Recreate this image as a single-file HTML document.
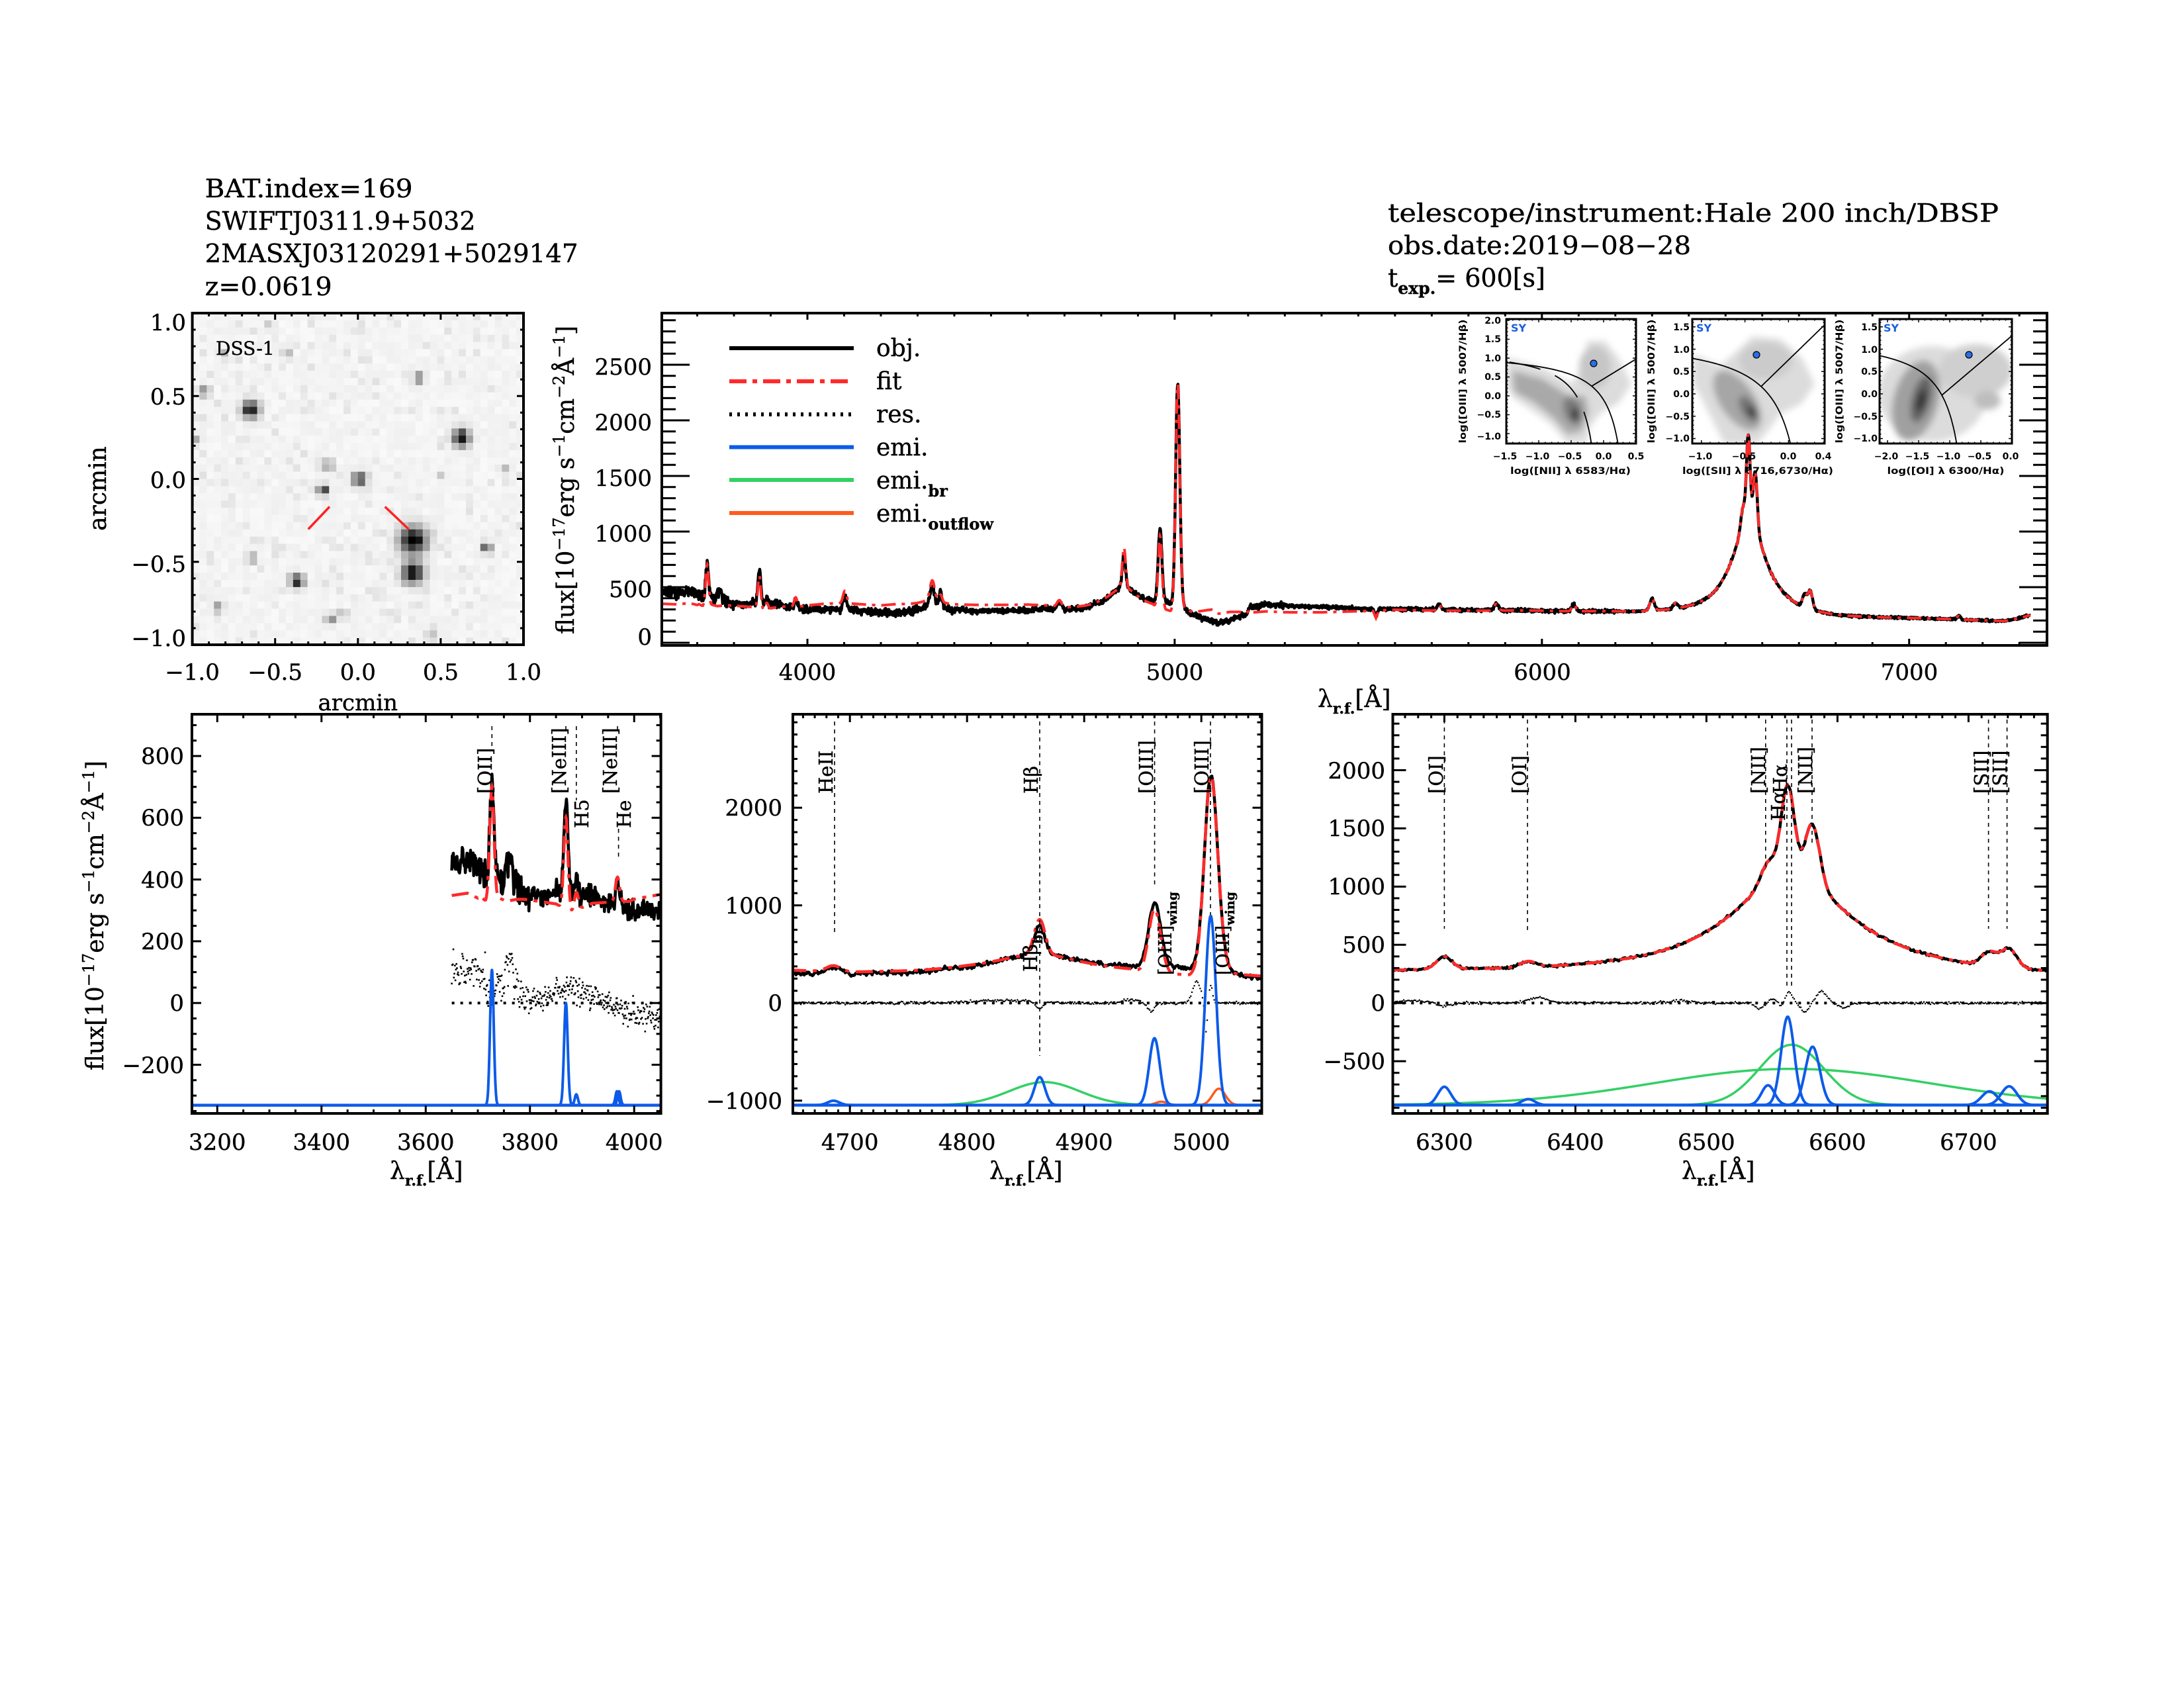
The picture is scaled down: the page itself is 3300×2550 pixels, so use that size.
<!DOCTYPE html>
<html><head><meta charset="utf-8"><title>SWIFTJ0311.9+5032 spectrum</title>
<style>
html,body{margin:0;padding:0;background:#fff;}
svg{display:block;}
text{font-family:"DejaVu Serif","Liberation Serif",serif;fill:#000;stroke:#000;stroke-width:0.4px;}
.ins text{font-family:"DejaVu Sans","Liberation Sans",sans-serif;font-weight:bold;stroke:none;}
</style></head><body>
<svg id="S" xmlns="http://www.w3.org/2000/svg" width="3300" height="2550" viewBox="0 0 3300 2550">
<rect width="3300" height="2550" fill="#fff"/>
<defs>
<clipPath id="cm"><rect x="1000" y="473" width="2093" height="502"/></clipPath>
<clipPath id="c1"><rect x="290" y="1079" width="708.6" height="603"/></clipPath>
<clipPath id="c2"><rect x="1198" y="1079" width="708.5" height="603"/></clipPath>
<clipPath id="c3"><rect x="2104.5" y="1079" width="989.2" height="603"/></clipPath>
<clipPath id="ci1"><rect x="2276" y="482" width="196" height="188"/></clipPath>
<clipPath id="ci2"><rect x="2557" y="482" width="200" height="188"/></clipPath>
<clipPath id="ci3"><rect x="2840" y="482" width="200" height="188"/></clipPath>
<filter id="bl" x="-30%" y="-30%" width="160%" height="160%"><feGaussianBlur stdDeviation="5"/></filter>
</defs>

<!-- Header text -->
<text x="309.6" y="298" font-size="38" textLength="314" lengthAdjust="spacingAndGlyphs">BAT.index=169</text>
<text x="309.6" y="347" font-size="38" textLength="409" lengthAdjust="spacingAndGlyphs">SWIFTJ0311.9+5032</text>
<text x="309.6" y="396" font-size="38" textLength="564" lengthAdjust="spacingAndGlyphs">2MASXJ03120291+5029147</text>
<text x="309.6" y="446" font-size="38" textLength="192" lengthAdjust="spacingAndGlyphs">z=0.0619</text>
<text x="2097" y="335" font-size="38" textLength="923" lengthAdjust="spacingAndGlyphs">telescope/instrument:Hale 200 inch/DBSP</text>
<text x="2097" y="384" font-size="38" textLength="458" lengthAdjust="spacingAndGlyphs">obs.date:2019−08−28</text>
<text x="2097" y="433" font-size="38">t<tspan font-size="25" font-weight="bold" dy="11">exp.</tspan><tspan dy="-11">= 600[s]</tspan></text>

<!-- DSS image -->
<g id="gdss"></g>
<line x1="465.7" y1="799.5" x2="498" y2="765.5" stroke="#f22" stroke-width="3.5"/>
<line x1="581.7" y1="765.5" x2="617.5" y2="799.5" stroke="#f22" stroke-width="3.5"/>
<text x="326" y="536" font-size="28">DSS-1</text>
<rect x="290.6" y="473" width="500.4" height="501" fill="none" stroke="#000" stroke-width="4"/>
<g font-size="34" text-anchor="end">
<text x="281" y="499">1.0</text>
<text x="281" y="611">0.5</text>
<text x="281" y="737">0.0</text>
<text x="281" y="864">−0.5</text>
<text x="281" y="976">−1.0</text>
</g>
<g font-size="34" text-anchor="middle">
<text x="290.6" y="1027">−1.0</text>
<text x="415.7" y="1027">−0.5</text>
<text x="540.8" y="1027">0.0</text>
<text x="666" y="1027">0.5</text>
<text x="791" y="1027">1.0</text>
<text x="540.8" y="1073">arcmin</text>
</g>
<text transform="translate(160,738) rotate(-90)" font-size="36" text-anchor="middle">arcmin</text>

<!-- Insets (BPT) -->
<g class="ins">
<g clip-path="url(#ci1)"><g filter="url(#bl)">
<polygon fill="#dcdcdc" points="2278,540 2330,555 2375,580 2395,545 2398,515 2425,515 2445,540 2465,580 2445,610 2420,622 2402,645 2398,668 2368,670 2345,642 2318,622 2288,602 2276,585"/>
<ellipse cx="2410" cy="555" rx="24" ry="32" fill="#c6c6c6"/>
<polygon fill="#a9a9a9" points="2285,560 2330,572 2372,598 2396,598 2400,622 2390,652 2368,656 2348,632 2318,608 2288,592"/>
<ellipse cx="2376" cy="620" rx="13" ry="22" transform="rotate(-20 2376 620)" fill="#7a7a7a"/>
<ellipse cx="2380" cy="626" rx="6" ry="11" fill="#3e3e3e"/>
</g></g>
<g clip-path="url(#ci2)"><g filter="url(#bl)">
<polygon fill="#dcdcdc" points="2558,535 2600,552 2625,530 2648,508 2690,512 2722,540 2742,580 2722,610 2690,625 2672,650 2655,670 2605,670 2585,630 2570,600 2558,580"/>
<ellipse cx="2668" cy="545" rx="40" ry="28" fill="#cbcbcb"/>
<ellipse cx="2625" cy="605" rx="52" ry="26" transform="rotate(55 2625 605)" fill="#a6a6a6"/>
<ellipse cx="2642" cy="618" rx="22" ry="11" transform="rotate(60 2642 618)" fill="#737373"/>
<ellipse cx="2647" cy="622" rx="9" ry="5" transform="rotate(60 2647 622)" fill="#333"/>
</g></g>
<g clip-path="url(#ci3)"><g filter="url(#bl)">
<ellipse cx="2920" cy="595" rx="82" ry="72" fill="#dcdcdc"/>
<ellipse cx="2985" cy="560" rx="55" ry="40" fill="#cfcfcf"/>
<ellipse cx="3003" cy="605" rx="20" ry="14" fill="#bdbdbd"/>
<ellipse cx="2895" cy="605" rx="34" ry="62" transform="rotate(15 2895 605)" fill="#a0a0a0"/>
<ellipse cx="2903" cy="603" rx="14" ry="36" transform="rotate(15 2903 603)" fill="#636363"/>
<ellipse cx="2903" cy="605" rx="6" ry="17" transform="rotate(15 2903 605)" fill="#2e2e2e"/>
</g></g>
<g id="gins"></g>
<rect x="2276" y="482" width="196" height="188" fill="none" stroke="#000" stroke-width="3"/>
<rect x="2557" y="482" width="200" height="188" fill="none" stroke="#000" stroke-width="3"/>
<rect x="2840" y="482" width="200" height="188" fill="none" stroke="#000" stroke-width="3"/>
<g fill="#1a5fe0" font-size="16"><text x="2283" y="501" style="fill:#1a5fe0">SY</text><text x="2563" y="501" style="fill:#1a5fe0">SY</text><text x="2846" y="501" style="fill:#1a5fe0">SY</text></g>
<g font-size="14" text-anchor="end">
<text x="2268" y="489">2.0</text><text x="2268" y="517">1.5</text><text x="2268" y="546">1.0</text><text x="2268" y="574">0.5</text><text x="2268" y="603">0.0</text><text x="2268" y="631">−0.5</text><text x="2268" y="664">−1.0</text>
<text x="2553" y="499">1.5</text><text x="2553" y="533">1.0</text><text x="2553" y="566">0.5</text><text x="2553" y="600">0.0</text><text x="2553" y="634">−0.5</text><text x="2553" y="667">−1.0</text>
<text x="2837" y="499">1.5</text><text x="2837" y="533">1.0</text><text x="2837" y="566">0.5</text><text x="2837" y="600">0.0</text><text x="2837" y="634">−0.5</text><text x="2837" y="667">−1.0</text>
</g>
<g font-size="14" text-anchor="middle">
<text x="2274" y="694">−1.5</text><text x="2323" y="694">−1.0</text><text x="2372" y="694">−0.5</text><text x="2423" y="694">0.0</text><text x="2472" y="694">0.5</text>
<text x="2569" y="694">−1.0</text><text x="2635" y="694">−0.5</text><text x="2702" y="694">0.0</text><text x="2755" y="694">0.4</text>
<text x="2850" y="694">−2.0</text><text x="2897" y="694">−1.5</text><text x="2944" y="694">−1.0</text><text x="2991" y="694">−0.5</text><text x="3038" y="694">0.0</text>
<text x="2373" y="716" textLength="182" lengthAdjust="spacingAndGlyphs">log([NII] λ 6583/Hα)</text>
<text x="2656" y="716" textLength="228" lengthAdjust="spacingAndGlyphs">log([SII] λ 6716,6730/Hα)</text>
<text x="2940" y="716" textLength="177" lengthAdjust="spacingAndGlyphs">log([OI] λ 6300/Hα)</text>
<text transform="translate(2215,576) rotate(-90)" textLength="187" lengthAdjust="spacingAndGlyphs">log([OIII] λ 5007/Hβ)</text>
<text transform="translate(2500,576) rotate(-90)" textLength="187" lengthAdjust="spacingAndGlyphs">log([OIII] λ 5007/Hβ)</text>
<text transform="translate(2784,576) rotate(-90)" textLength="187" lengthAdjust="spacingAndGlyphs">log([OIII] λ 5007/Hβ)</text>
</g>
</g>

<!-- Main spectrum -->
<g id="gmain" clip-path="url(#cm)"></g>
<rect x="1000" y="473" width="2093" height="502" fill="none" stroke="#000" stroke-width="4"/>
<g font-size="34" text-anchor="end">
<text x="985" y="566">2500</text><text x="985" y="650">2000</text><text x="985" y="734">1500</text><text x="985" y="818">1000</text><text x="985" y="902">500</text><text x="985" y="974">0</text>
</g>
<g font-size="34" text-anchor="middle">
<text x="1220" y="1027">4000</text><text x="1775" y="1027">5000</text><text x="2330.5" y="1027">6000</text><text x="2885" y="1027">7000</text>
</g>
<text x="1991" y="1068" font-size="36">λ<tspan font-size="22" font-weight="bold" dy="10">r.f.</tspan><tspan dy="-10">[Å]</tspan></text>
<text transform="translate(867,725) rotate(-90)" font-size="36" text-anchor="middle" textLength="466" lengthAdjust="spacingAndGlyphs">flux[10<tspan font-size="24" dy="-14">−17</tspan><tspan dy="14">erg s</tspan><tspan font-size="24" dy="-14">−1</tspan><tspan dy="14">cm</tspan><tspan font-size="24" dy="-14">−2</tspan><tspan dy="14">Å</tspan><tspan font-size="24" dy="-14">−1</tspan><tspan dy="14">]</tspan></text>
<!-- legend -->
<line x1="1102" y1="526" x2="1290" y2="526" stroke="#000" stroke-width="6"/>
<line x1="1102" y1="576" x2="1290" y2="576" stroke="#ff2a2a" stroke-width="6" stroke-dasharray="26 9 7 9"/>
<line x1="1102" y1="626" x2="1290" y2="626" stroke="#000" stroke-width="6" stroke-dasharray="4 8"/>
<line x1="1102" y1="675.5" x2="1290" y2="675.5" stroke="#0d5be8" stroke-width="6"/>
<line x1="1102" y1="725" x2="1290" y2="725" stroke="#33d065" stroke-width="6"/>
<line x1="1102" y1="775" x2="1290" y2="775" stroke="#ff5a1e" stroke-width="6"/>
<g font-size="36">
<text x="1324" y="538">obj.</text>
<text x="1324" y="588">fit</text>
<text x="1324" y="638">res.</text>
<text x="1324" y="688">emi.</text>
<text x="1324" y="738">emi.<tspan font-size="24" font-weight="bold" dy="12">br</tspan></text>
<text x="1324" y="788">emi.<tspan font-size="24" font-weight="bold" dy="12">outflow</tspan></text>
</g>

<!-- Bottom panels -->
<g id="gp1" clip-path="url(#c1)"></g>
<g id="gp2" clip-path="url(#c2)"></g>
<g id="gp3" clip-path="url(#c3)"></g>
<rect x="290" y="1079" width="708.6" height="603" fill="none" stroke="#000" stroke-width="4"/>
<rect x="1198" y="1079" width="708.5" height="603" fill="none" stroke="#000" stroke-width="4"/>
<rect x="2104.5" y="1079" width="989.2" height="603" fill="none" stroke="#000" stroke-width="4"/>
<g font-size="34" text-anchor="end">
<text x="278" y="1154">800</text><text x="278" y="1247">600</text><text x="278" y="1341">400</text><text x="278" y="1434">200</text><text x="278" y="1527">0</text><text x="278" y="1621">−200</text>
<text x="1182" y="1232">2000</text><text x="1182" y="1380">1000</text><text x="1182" y="1527">0</text><text x="1182" y="1675">−1000</text>
<text x="2093" y="1176">2000</text><text x="2093" y="1263">1500</text><text x="2093" y="1351">1000</text><text x="2093" y="1439">500</text><text x="2093" y="1527">0</text><text x="2093" y="1615">−500</text>
</g>
<g font-size="34" text-anchor="middle">
<text x="328.3" y="1737">3200</text><text x="485.8" y="1737">3400</text><text x="643.3" y="1737">3600</text><text x="800.8" y="1737">3800</text><text x="958.2" y="1737">4000</text>
<text x="1284.2" y="1737">4700</text><text x="1461.2" y="1737">4800</text><text x="1638.2" y="1737">4900</text><text x="1815.2" y="1737">5000</text>
<text x="2182.4" y="1737">6300</text><text x="2380.4" y="1737">6400</text><text x="2578.4" y="1737">6500</text><text x="2776.4" y="1737">6600</text><text x="2974.4" y="1737">6700</text>
</g>
<text x="589" y="1781" font-size="36">λ<tspan font-size="22" font-weight="bold" dy="10">r.f.</tspan><tspan dy="-10">[Å]</tspan></text>
<text x="1495" y="1781" font-size="36">λ<tspan font-size="22" font-weight="bold" dy="10">r.f.</tspan><tspan dy="-10">[Å]</tspan></text>
<text x="2541" y="1781" font-size="36">λ<tspan font-size="22" font-weight="bold" dy="10">r.f.</tspan><tspan dy="-10">[Å]</tspan></text>
<text transform="translate(156,1383) rotate(-90)" font-size="36" text-anchor="middle" textLength="468" lengthAdjust="spacingAndGlyphs">flux[10<tspan font-size="24" dy="-14">−17</tspan><tspan dy="14">erg s</tspan><tspan font-size="24" dy="-14">−1</tspan><tspan dy="14">cm</tspan><tspan font-size="24" dy="-14">−2</tspan><tspan dy="14">Å</tspan><tspan font-size="24" dy="-14">−1</tspan><tspan dy="14">]</tspan></text>

<!-- line marker labels -->
<g font-size="29">
<text transform="translate(743,1199) rotate(-90)">[OII]</text>
<text transform="translate(855,1199) rotate(-90)">[NeIII]</text>
<text transform="translate(889,1251) rotate(-90)">H5</text>
<text transform="translate(932,1199) rotate(-90)">[NeIII]</text>
<text transform="translate(953,1251) rotate(-90)">He</text>

<text transform="translate(1258,1199) rotate(-90)">HeII</text>
<text transform="translate(1568,1199) rotate(-90)">Hβ</text>
<text transform="translate(1742,1199) rotate(-90)">[OIII]</text>
<text transform="translate(1826,1199) rotate(-90)">[OIII]</text>
<text transform="translate(1567,1468) rotate(-90)">Hβ<tspan font-size="20" font-weight="bold" dy="8">br</tspan></text>
<text transform="translate(1770,1473) rotate(-90)" font-size="27">[OIII]<tspan font-size="19" font-weight="bold" dy="8">wing</tspan></text>
<text transform="translate(1857,1473) rotate(-90)" font-size="27">[OIII]<tspan font-size="19" font-weight="bold" dy="8">wing</tspan></text>

<text transform="translate(2180,1199) rotate(-90)">[OI]</text>
<text transform="translate(2306,1199) rotate(-90)">[OI]</text>
<text transform="translate(2667,1199) rotate(-90)">[NII]</text>
<text transform="translate(2700,1199) rotate(-90)">Hα</text>
<text transform="translate(2697,1240) rotate(-90)">Hα</text>
<text transform="translate(2738,1199) rotate(-90)">[NII]</text>
<text transform="translate(3004,1199) rotate(-90)">[SII]</text>
<text transform="translate(3032,1199) rotate(-90)">[SII]</text>
</g>

<g id="gt"></g>
</svg>
<script>
(function(){
const NS='http://www.w3.org/2000/svg';
function E(p,t,a){const e=document.createElementNS(NS,t);for(const k in a)e.setAttribute(k,a[k]);p.appendChild(e);return e;}
function G(l,c,s){const z=(l-c)/s;return Math.exp(-0.5*z*z);}
function Lz(l,c,g){const z=(l-c)/g;return 1/(1+z*z);}
function interp(P,x){if(x<=P[0][0])return P[0][1];for(let i=1;i<P.length;i++){if(x<=P[i][0]){const a=P[i-1],b=P[i];return a[1]+(b[1]-a[1])*(x-a[0])/(b[0]-a[0]);}}return P[P.length-1][1];}
function hn(i){const x=Math.sin(i*127.1+311.7)*43758.5453;return x-Math.floor(x);}
function gn(i){return (hn(i)+hn(i+0.37)+hn(i+0.71)+hn(i+0.13)-2)*1.732;}

/* ---------- spectrum model ---------- */
const OC=[[3604,455],[3640,450],[3680,460],[3705,440],[3715,400],[3740,400],[3755,380],[3775,375],[3790,345],[3850,355],[3900,345],[3950,325],[3990,300],[4050,300],[4100,300],[4130,290],[4200,265],[4260,270],[4300,285],[4400,285],[4500,280],[4600,285],[4650,295],[4700,280],[4760,280],[4800,290],[4850,300],[4900,300],[4940,320],[4980,340],[5000,310],[5030,270],[5060,230],[5090,200],[5120,165],[5150,200],[5185,240],[5195,240],[5205,320],[5250,335],[5300,330],[5400,320],[5500,305],[5540,300],[5548,235],[5556,300],[5700,295],[5800,290],[5950,285],[6050,275],[6150,270],[6250,258],[6350,250],[6450,245],[6550,260],[6650,240],[6700,225],[6800,210],[6900,210],[7000,210],[7100,205],[7200,195],[7260,190],[7300,215],[7330,245]];
const OL=[[3727,300,4],[3760,90,6],[3869,300,4],[3889,60,4],[3968,80,4],[4102,110,5],[4340,160,6],[4363,150,4],[4686,60,6],[4862,287,4.5],[4960,640,5],[4966,35,5],[5008,1939,5.5],[5015,169,5.5],[5720,50,5],[5876,60,6],[6087,60,5],[6300,110,6],[6364,50,6],[6547,170,5.5],[6562,759,5],[6581,501,5.5],[6716,118,6],[6731,161,6],[7135,30,5]];
const OLZ=[[4340,60,25],[4862,200,50],[6564,856,54.5]];
function objS(l){let f=interp(OC,l);for(const q of OL)f+=q[1]*G(l,q[0],q[2]);for(const q of OLZ)f+=q[1]*Lz(l,q[0],q[2]);return f;}
function sig(l){return l<3800?26:l<4400?17:l<5300?12:l<6200?8:5;}
function obj(l){return objS(l)+sig(l)*gn(Math.round(l*2));}
const DEL=[[3604,-105],[3700,-105],[3720,-60],[3740,-60],[3775,-40],[3790,-10],[3850,-35],[3880,-60],[3920,-15],[3950,0],[4000,35],[4050,50],[4150,60],[4250,75],[4300,55],[4400,50],[4500,55],[4600,50],[4650,30],[4700,20],[4800,15],[4850,0],[4900,-10],[4940,-30],[4950,-60],[4975,-80],[4990,-70],[5000,-20],[5020,0],[5050,20],[5100,100],[5150,70],[5195,20],[5210,-55],[5300,-60],[5400,-50],[5500,-25],[5600,-5],[5700,-10],[6000,0],[7330,0]];
const FA=[[3727,60,4],[3760,-90,6],[4363,-90,4],[4862,70,5]];
function fit(l){let f=objS(l)+interp(DEL,l);for(const q of FA)f+=q[1]*G(l,q[0],q[2]);return f;}
function P(fn,l0,l1,st,X,Y){let d='';for(let l=l0;l<=l1+1e-9;l+=st){d+=(d?'L':'M')+X(l).toFixed(1)+' '+Y(fn(l)).toFixed(1);}return d;}

const RED='#ff2a2a',BLUE='#0d5be8',GREEN='#33d065',ORANGE='#ff5a1e';

/* ---------- main ---------- */
const mX=l=>1220+(l-4000)*0.5549, mY=f=>971-f*0.168;
const gm=document.getElementById('gmain');
E(gm,'path',{d:P(obj,3604,7330,1,mX,mY),fill:'none',stroke:'#000','stroke-width':4.5,'stroke-linejoin':'round'});
E(gm,'path',{d:P(fit,3604,7330,1,mX,mY),fill:'none',stroke:RED,'stroke-width':4,'stroke-dasharray':'22 9 5 9'});

/* ---------- generic panel ---------- */
function panel(gid,X,Y,l0,l1,lf0,lf1,res,resDots,zero0,zero1,base,blue,green,orange,marks){
 const g=document.getElementById(gid);
 E(g,'path',{d:P(obj,l0,l1,1,X,Y),fill:'none',stroke:'#000','stroke-width':4.5,'stroke-linejoin':'round'});
 E(g,'path',{d:P(fit,l0,l1,0.5,X,Y),fill:'none',stroke:RED,'stroke-width':4.5,'stroke-dasharray':'26 10 6 10'});
 for(let l=l0;l<=l1;l+=1){const r=res(l);const s=resDots;E(g,'rect',{x:(X(l)-s/2).toFixed(1),y:(Y(r)-s/2).toFixed(1),width:s,height:s,fill:'#000'});}
 E(g,'line',{x1:X(zero0),y1:Y(0),x2:X(zero1),y2:Y(0),stroke:'#000','stroke-width':4,'stroke-dasharray':'4 9'});
 for(const m of marks)E(g,'line',{x1:m[0],y1:m[1],x2:m[0],y2:m[2],stroke:'#000','stroke-width':1.6,'stroke-dasharray':'6 6'});
 for(const q of green){E(g,'path',{d:P(l=>base+q[1]*G(l,q[0],q[2]),Math.max(lf0,q[0]-5*q[2]),Math.min(lf1,q[0]+5*q[2]),0.5,X,Y),fill:'none',stroke:GREEN,'stroke-width':3.5});}
 for(const q of orange){E(g,'path',{d:P(l=>base+q[1]*G(l,q[0],q[2]),q[0]-5*q[2],q[0]+5*q[2],0.25,X,Y),fill:'none',stroke:ORANGE,'stroke-width':3.5});}
 E(g,'line',{x1:X(lf0),y1:Y(base),x2:X(lf1),y2:Y(base),stroke:BLUE,'stroke-width':4.5});
 for(const q of blue){E(g,'path',{d:P(l=>base+q[1]*G(l,q[0],q[2]),q[0]-5*q[2],q[0]+5*q[2],0.25,X,Y),fill:'none',stroke:BLUE,'stroke-width':4,'stroke-linejoin':'round'});}
}
const p1X=l=>328.3+(l-3200)*0.7874, p1Y=f=>1515.2-f*0.4664;
panel('gp1',p1X,p1Y,3650,4050,3140,4060,
 l=>obj(l)-fit(l)+14*gn(l*3+7),2.6,3650,4050,-331,
 [[3727,438,3.5],[3869,331,3.5],[3889,35,3],[3967,45,3],[3971,45,3]],[],[],
 [[743.3,1097,1134],[855,1097,1104],[870.8,1097,1209],[933,1097,1104],[934.6,1252,1296]]);
const p2X=l=>1284.2+(l-4700)*1.77, p2Y=f=>1515.2-f*0.1475;
panel('gp2',p2X,p2Y,4648,5055,4645,5055,
 l=>7*gn(l*3+11)-60*G(l,4862,3)-90*G(l,4957,3)+220*G(l,4996,3.5)-300*G(l,5004,1.2)+180*G(l,5008,1.5)+25*G(l,4830,25)+30*G(l,4940,8),2.2,4645,5055,-1046,
 [[4686,45,5],[4862,287,4.5],[4960,685,4.5],[5008,1939,4.5]],[[4866,236,30]],[[4966,35,5],[5015,169,5.5]],
 [[1261,1090,1413],[1571,1090,1595],[1744.6,1090,1339],[1829,1090,1383]]);
const p3X=l=>2182.4+(l-6300)*1.98, p3Y=f=>1515.2-f*0.17585;
panel('gp3',p3X,p3Y,6258,6765,6255,6765,
 l=>5*gn(l*3+17)+20*G(l,6275,12)-30*G(l,6300,5)+45*G(l,6372,7)+20*G(l,6480,8)-50*G(l,6540,3)+30*G(l,6551,3)-30*G(l,6557,2)+100*G(l,6563,2.5)-80*G(l,6575,3)+100*G(l,6588,4)-40*G(l,6605,4),2.2,6255,6765,-877,
 [[6300,157,5],[6364,51,5],[6547,170,5],[6562,759,5],[6581,501,5.5],[6716,118,6],[6731,161,6]],[[6565,518,24.6],[6565,311,105]],[],
 [[2182.4,1087,1403],[2308,1087,1408],[2667.8,1087,1309],[2700,1087,1493],[2707,1087,1493],[2738,1087,1279],[3004.6,1087,1403],[3032.6,1087,1403]]);

/* ---------- ticks ---------- */
const gt=document.getElementById('gt');
function ticks(box,xr,xmaj,xmin,XM,xl,yr,ymaj,ymin,YM,yl,w){
 const [x0,x1,y0,y1]=box;
 let n0=Math.ceil(xr[0]/xmin-1e-9),n1=Math.floor(xr[1]/xmin+1e-9);
 for(let n=n0;n<=n1;n++){const v=n*xmin,px=XM(v);if(px<x0-0.5||px>x1+0.5)continue;const M=Math.abs(v/xmaj-Math.round(v/xmaj))<1e-6;const L=M?xl:xl/2;
  E(gt,'line',{x1:px,y1:y1,x2:px,y2:y1-L,stroke:'#000','stroke-width':w});
  E(gt,'line',{x1:px,y1:y0,x2:px,y2:y0+L,stroke:'#000','stroke-width':w});}
 n0=Math.ceil(yr[0]/ymin-1e-9);n1=Math.floor(yr[1]/ymin+1e-9);
 for(let n=n0;n<=n1;n++){const v=n*ymin,py=YM(v);if(py<y0-0.5||py>y1+0.5)continue;const M=Math.abs(v/ymaj-Math.round(v/ymaj))<1e-6;const L=M?yl:yl/2;
  E(gt,'line',{x1:x0,y1:py,x2:x0+L,y2:py,stroke:'#000','stroke-width':w});
  E(gt,'line',{x1:x1,y1:py,x2:x1-L,y2:py,stroke:'#000','stroke-width':w});}
}
ticks([1000,3093,473,975],[3600,7380],1000,100,mX,10,[-30,2970],500,100,mY,42,3);
const dX=a=>540.8+a*250.2, dY=a=>723.5-a*250.5;
ticks([290.6,791,473,974],[-1,1],0.5,0.1,dX,10,[-1,1],0.5,0.1,dY,10,3);
ticks([290,998.6,1079,1682],[3150,4052],200,50,p1X,12,[-360,936],200,50,p1Y,14,3);
ticks([1198,1906.5,1079,1682],[4650,5052],100,10,p2X,12,[-1132,2958],1000,125,p2Y,14,3);
ticks([2104.5,3093.7,1079,1682],[6260,6761],100,10,p3X,12,[-950,2481],500,100,p3Y,20,3);
const i1X=v=>2276+(v+1.5)*98, i1Y=v=>598-57*v;
const i2X=v=>2702.4+131.6*v, i2Y=v=>595-67.5*v;
const i3X=v=>3040+94*v, i3Y=i2Y;
ticks([2276,2472,482,670],[-1.5,0.5],0.5,0.1,i1X,5,[-1.3,2.1],0.5,0.1,i1Y,5,1.5);
ticks([2557,2757,482,670],[-1.11,0.42],0.5,0.1,i2X,5,[-1.12,1.7],0.5,0.1,i2Y,5,1.5);
ticks([2840,3040,482,670],[-2.13,0],0.5,0.1,i3X,5,[-1.12,1.7],0.5,0.1,i3Y,5,1.5);

/* ---------- inset curves ---------- */
const gi=document.getElementById('gins');
function curve(clip,f,a,b,X,Y,extra){let d='';for(let i=0;i<=240;i++){const x=a+(b-a)*i/240;d+=(i?'L':'M')+X(x).toFixed(1)+' '+Y(f(x)).toFixed(1);}
 const g=E(gi,'g',{'clip-path':'url(#'+clip+')'});E(g,'path',Object.assign({d:d,fill:'none',stroke:'#000','stroke-width':1.8},extra||{}));}
curve('ci1',x=>0.61/(x-0.47)+1.19,-1.5,0.23,i1X,i1Y);
curve('ci1',x=>0.61/(x-0.05)+1.3,-1.45,-0.17,i1X,i1Y,{'stroke-dasharray':'48 24'});
curve('ci1',x=>1.05*x+0.45,-0.185,0.5,i1X,i1Y);
curve('ci2',x=>0.72/(x-0.32)+1.3,-1.11,0.03,i2X,i2Y);
curve('ci2',x=>1.89*x+0.76,-0.313,0.42,i2X,i2Y);
curve('ci3',x=>0.73/(x+0.59)+1.33,-2.13,-0.88,i3X,i3Y);
curve('ci3',x=>1.18*x+1.30,-1.125,0,i3X,i3Y);
E(gi,'circle',{cx:2408,cy:549,r:5,fill:'#2a6fe8',stroke:'#000','stroke-width':1.2});
E(gi,'circle',{cx:2654,cy:536,r:5,fill:'#2a6fe8',stroke:'#000','stroke-width':1.2});
E(gi,'circle',{cx:2975,cy:536,r:5,fill:'#2a6fe8',stroke:'#000','stroke-width':1.2});

/* ---------- DSS image ---------- */
const gd=document.getElementById('gdss');
const N=46,x0=290.6,y0=473,cw=(791-290.6)/N,ch=(974-473)/N;
const stars=[[379,618.5,230,9],[697,661,230,9],[632,571,150,5],[309.6,591,130,5],[496.6,702.4,150,5],[542.7,723.8,210,7],[488.5,740,210,5.5],[624,816,260,14],[624,865.3,250,11],[735,827,170,5.5],[449.5,878,210,7],[380,843,110,5],[330,917.5,100,5],[499,934,120,5],[518,928.5,80,5],[651,961,80,5],[434,533.5,70,5],[339,536,60,5],[407,492,50,5],[762,709,60,5],[667,717,50,4],[293,665,80,5]];
for(let i=0;i<N;i++)for(let j=0;j<N;j++){
 const cx=x0+(i+0.5)*cw,cy=y0+(j+0.5)*ch;
 let v=244+10*(hn(i*97+j*13+5)-0.5);
 if(hn(i*31+j*57+2)>0.9)v-=14;
 for(const s of stars){const dx=cx-s[0],dy=cy-s[1];v-=s[2]*Math.exp(-(dx*dx+dy*dy)/(2*s[3]*s[3]));}
 v=Math.max(0,Math.min(255,Math.round(v)));
 E(gd,'rect',{x:(x0+i*cw).toFixed(2),y:(y0+j*ch).toFixed(2),width:(cw+0.6).toFixed(2),height:(ch+0.6).toFixed(2),fill:'rgb('+v+','+v+','+v+')'});
}
})();
</script>
</body></html>
